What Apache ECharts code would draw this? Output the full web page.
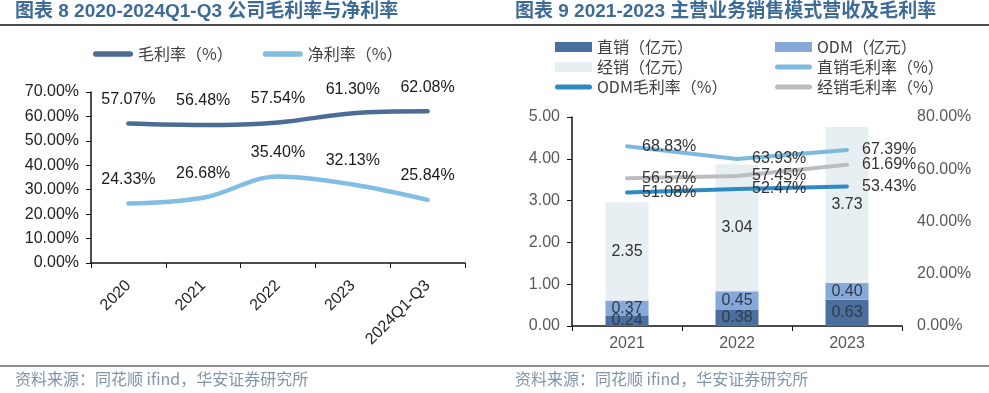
<!DOCTYPE html>
<html>
<head>
<meta charset="utf-8">
<script src="https://cdn.jsdelivr.net/npm/echarts@6/dist/echarts.min.js"></script>
<style>
html,body{margin:0;padding:0;background:#fff;}
#c{width:989px;height:393px;}
</style>
</head>
<body>
<div id="c"></div>
<script>
// ---- Data ----
const leftCategories = ['2020', '2021', '2022', '2023', '2024Q1-Q3'];
const grossMargin = [57.07, 56.48, 57.54, 61.30, 62.08];
const netMargin = [24.33, 26.68, 35.40, 32.13, 25.84];

const rightCategories = ['2021', '2022', '2023'];
const directSales = [0.24, 0.38, 0.63];
const odmSales = [0.37, 0.45, 0.40];
const distSales = [2.35, 3.04, 3.73];
const directGM = [68.83, 63.93, 67.39];
const odmGM = [51.08, 52.47, 53.43];
const distGM = [56.57, 57.45, 61.69];

const title1 = '图表 8 2020-2024Q1-Q3 公司毛利率与净利率';
const title2 = '图表 9 2021-2023 主营业务销售模式营收及毛利率';
const sourceText = '资料来源：同花顺 ifind，华安证券研究所';

// ---- Styles ----
const SANS = 'Liberation Sans, Arial, sans-serif';
const CJK = 'Noto Sans CJK SC, sans-serif';
const MIX = '"Liberation Sans", "Noto Sans CJK SC", sans-serif';
const lineIcon = 'path://M3,0 H35 A2.5,2.5 0 0 1 35,5 H3 A2.5,2.5 0 0 1 3,0 Z';
const pct = v => v.toFixed(2) + '%';

const lineLabel = (pos, dist) => ({
  show: true, position: pos, distance: dist,
  formatter: p => pct(p.value), fontFamily: SANS, fontSize: 16, color: pos === 'top' ? '#1a1a1a' : '#333'
});

const chart = echarts.init(document.getElementById('c'));
chart.setOption({
  animation: false,
  backgroundColor: '#fff',
  graphic: [
    { type: 'text', left: 15, top: 2, style: { text: title1, font: 'bold 19px ' + MIX, fill: '#3d6b98' } },
    { type: 'text', left: 515, top: 2, style: { text: title2, font: 'bold 19px ' + MIX, fill: '#3d6b98' } },
    { type: 'line', shape: { x1: 0, y1: 25, x2: 989, y2: 25 }, style: { stroke: '#111', lineWidth: 1.5 } },
    { type: 'line', shape: { x1: 0, y1: 366, x2: 989, y2: 366 }, style: { stroke: '#222', lineWidth: 1.2 } },
    { type: 'text', left: 15, top: 371, style: { text: sourceText, font: '16px ' + CJK, fill: '#8094aa' } },
    { type: 'text', left: 515, top: 371, style: { text: sourceText, font: '16px ' + CJK, fill: '#8094aa' } }
  ],
  legend: [
    {
      left: 93, top: 45, orient: 'horizontal', padding: 0,
      itemWidth: 40, itemHeight: 14, itemGap: 30,
      icon: lineIcon,
      data: ['毛利率（%）', '净利率（%）'],
      textStyle: { fontFamily: CJK, fontSize: 16, color: '#404040', lineHeight: 18 }
    },
    {
      left: 555, top: 37, orient: 'vertical', padding: 0,
      itemWidth: 37, itemHeight: 10, itemGap: 0,
      data: [
        { name: '直销（亿元）', icon: 'rect' },
        { name: '经销（亿元）', icon: 'rect' },
        { name: 'ODM毛利率（%）', icon: lineIcon }
      ],
      textStyle: { fontFamily: CJK, fontSize: 16, color: '#404040', lineHeight: 20 }
    },
    {
      left: 775, top: 37, orient: 'vertical', padding: 0,
      itemWidth: 37, itemHeight: 10, itemGap: 0,
      data: [
        { name: 'ODM（亿元）', icon: 'rect' },
        { name: '直销毛利率（%）', icon: lineIcon },
        { name: '经销毛利率（%）', icon: lineIcon }
      ],
      textStyle: { fontFamily: CJK, fontSize: 16, color: '#404040', lineHeight: 20 }
    }
  ],
  grid: [
    { left: 91, right: 524, top: 92, bottom: 130 },
    { left: 572, right: 87, top: 117, bottom: 67 }
  ],
  xAxis: [
    {
      type: 'category', gridIndex: 0, data: leftCategories, boundaryGap: true,
      axisLine: { lineStyle: { color: '#111', width: 1.5 } },
      axisTick: { show: true, length: 5, lineStyle: { color: '#111' } },
      axisLabel: { rotate: 45, fontFamily: SANS, fontSize: 16, color: '#222', margin: 20, interval: 0 }
    },
    {
      type: 'category', gridIndex: 1, data: rightCategories, boundaryGap: true,
      axisLine: { lineStyle: { color: '#111', width: 1.5 } },
      axisTick: { show: true, length: 5, lineStyle: { color: '#111' } },
      axisLabel: { fontFamily: SANS, fontSize: 16, color: '#595959', margin: 10 }
    }
  ],
  yAxis: [
    {
      type: 'value', gridIndex: 0, min: 0, max: 70, interval: 10,
      axisLine: { show: true, lineStyle: { color: '#111', width: 1.5 } },
      axisTick: { show: true, length: 5, lineStyle: { color: '#111' } },
      splitLine: { show: false },
      axisLabel: { formatter: pct, fontFamily: SANS, fontSize: 16, color: '#222', margin: 12 }
    },
    {
      type: 'value', gridIndex: 1, min: 0, max: 5, interval: 1,
      axisLine: { show: true, lineStyle: { color: '#111', width: 1.5 } },
      axisTick: { show: true, length: 5, lineStyle: { color: '#111' } },
      splitLine: { show: false },
      axisLabel: { formatter: v => v.toFixed(2), fontFamily: SANS, fontSize: 16, color: '#595959', margin: 12 }
    },
    {
      type: 'value', gridIndex: 1, position: 'right', min: 0, max: 80, interval: 20,
      axisLine: { show: false }, axisTick: { show: false }, splitLine: { show: false },
      axisLabel: { formatter: pct, fontFamily: SANS, fontSize: 16, color: '#595959', margin: 15 }
    }
  ],
  series: [
    {
      name: '毛利率（%）', type: 'line', xAxisIndex: 0, yAxisIndex: 0, data: grossMargin,
      smooth: 0.35, symbol: 'circle', symbolSize: 2, color: '#4a6c95',
      lineStyle: { width: 4.5, cap: 'round' },
      label: lineLabel('top', 15)
    },
    {
      name: '净利率（%）', type: 'line', xAxisIndex: 0, yAxisIndex: 0, data: netMargin,
      smooth: 0.35, symbol: 'circle', symbolSize: 2, color: '#82bde3',
      lineStyle: { width: 4.5, cap: 'round' },
      label: lineLabel('top', 15)
    },
    {
      name: '直销（亿元）', type: 'bar', xAxisIndex: 1, yAxisIndex: 1, stack: 'rev', data: directSales,
      barWidth: 43, color: '#4b6f9f',
      label: { show: true, position: 'inside', formatter: p => p.value.toFixed(2), fontFamily: SANS, fontSize: 16, color: '#2f3b4a' }
    },
    {
      name: 'ODM（亿元）', type: 'bar', xAxisIndex: 1, yAxisIndex: 1, stack: 'rev', data: odmSales,
      barWidth: 43, color: '#86a9d9',
      label: { show: true, position: 'inside', formatter: p => p.value.toFixed(2), fontFamily: SANS, fontSize: 16, color: '#2f3b4a' }
    },
    {
      name: '经销（亿元）', type: 'bar', xAxisIndex: 1, yAxisIndex: 1, stack: 'rev', data: distSales,
      barWidth: 43, color: '#e7eff3',
      label: { show: true, position: 'inside', formatter: p => p.value.toFixed(2), fontFamily: SANS, fontSize: 16, color: '#333' }
    },
    {
      name: '直销毛利率（%）', type: 'line', xAxisIndex: 1, yAxisIndex: 2, data: directGM,
      symbol: 'circle', symbolSize: 2, color: '#7cb9de', lineStyle: { width: 4, cap: 'round' }, z: 5,
      label: lineLabel('right', 14)
    },
    {
      name: 'ODM毛利率（%）', type: 'line', xAxisIndex: 1, yAxisIndex: 2, data: odmGM,
      symbol: 'circle', symbolSize: 2, color: '#2f89c3', lineStyle: { width: 4, cap: 'round' }, z: 5,
      label: lineLabel('right', 14)
    },
    {
      name: '经销毛利率（%）', type: 'line', xAxisIndex: 1, yAxisIndex: 2, data: distGM,
      symbol: 'circle', symbolSize: 2, color: '#bcbcc3', lineStyle: { width: 4, cap: 'round' }, z: 5,
      label: lineLabel('right', 14)
    }
  ]
});
</script>
</body>
</html>
